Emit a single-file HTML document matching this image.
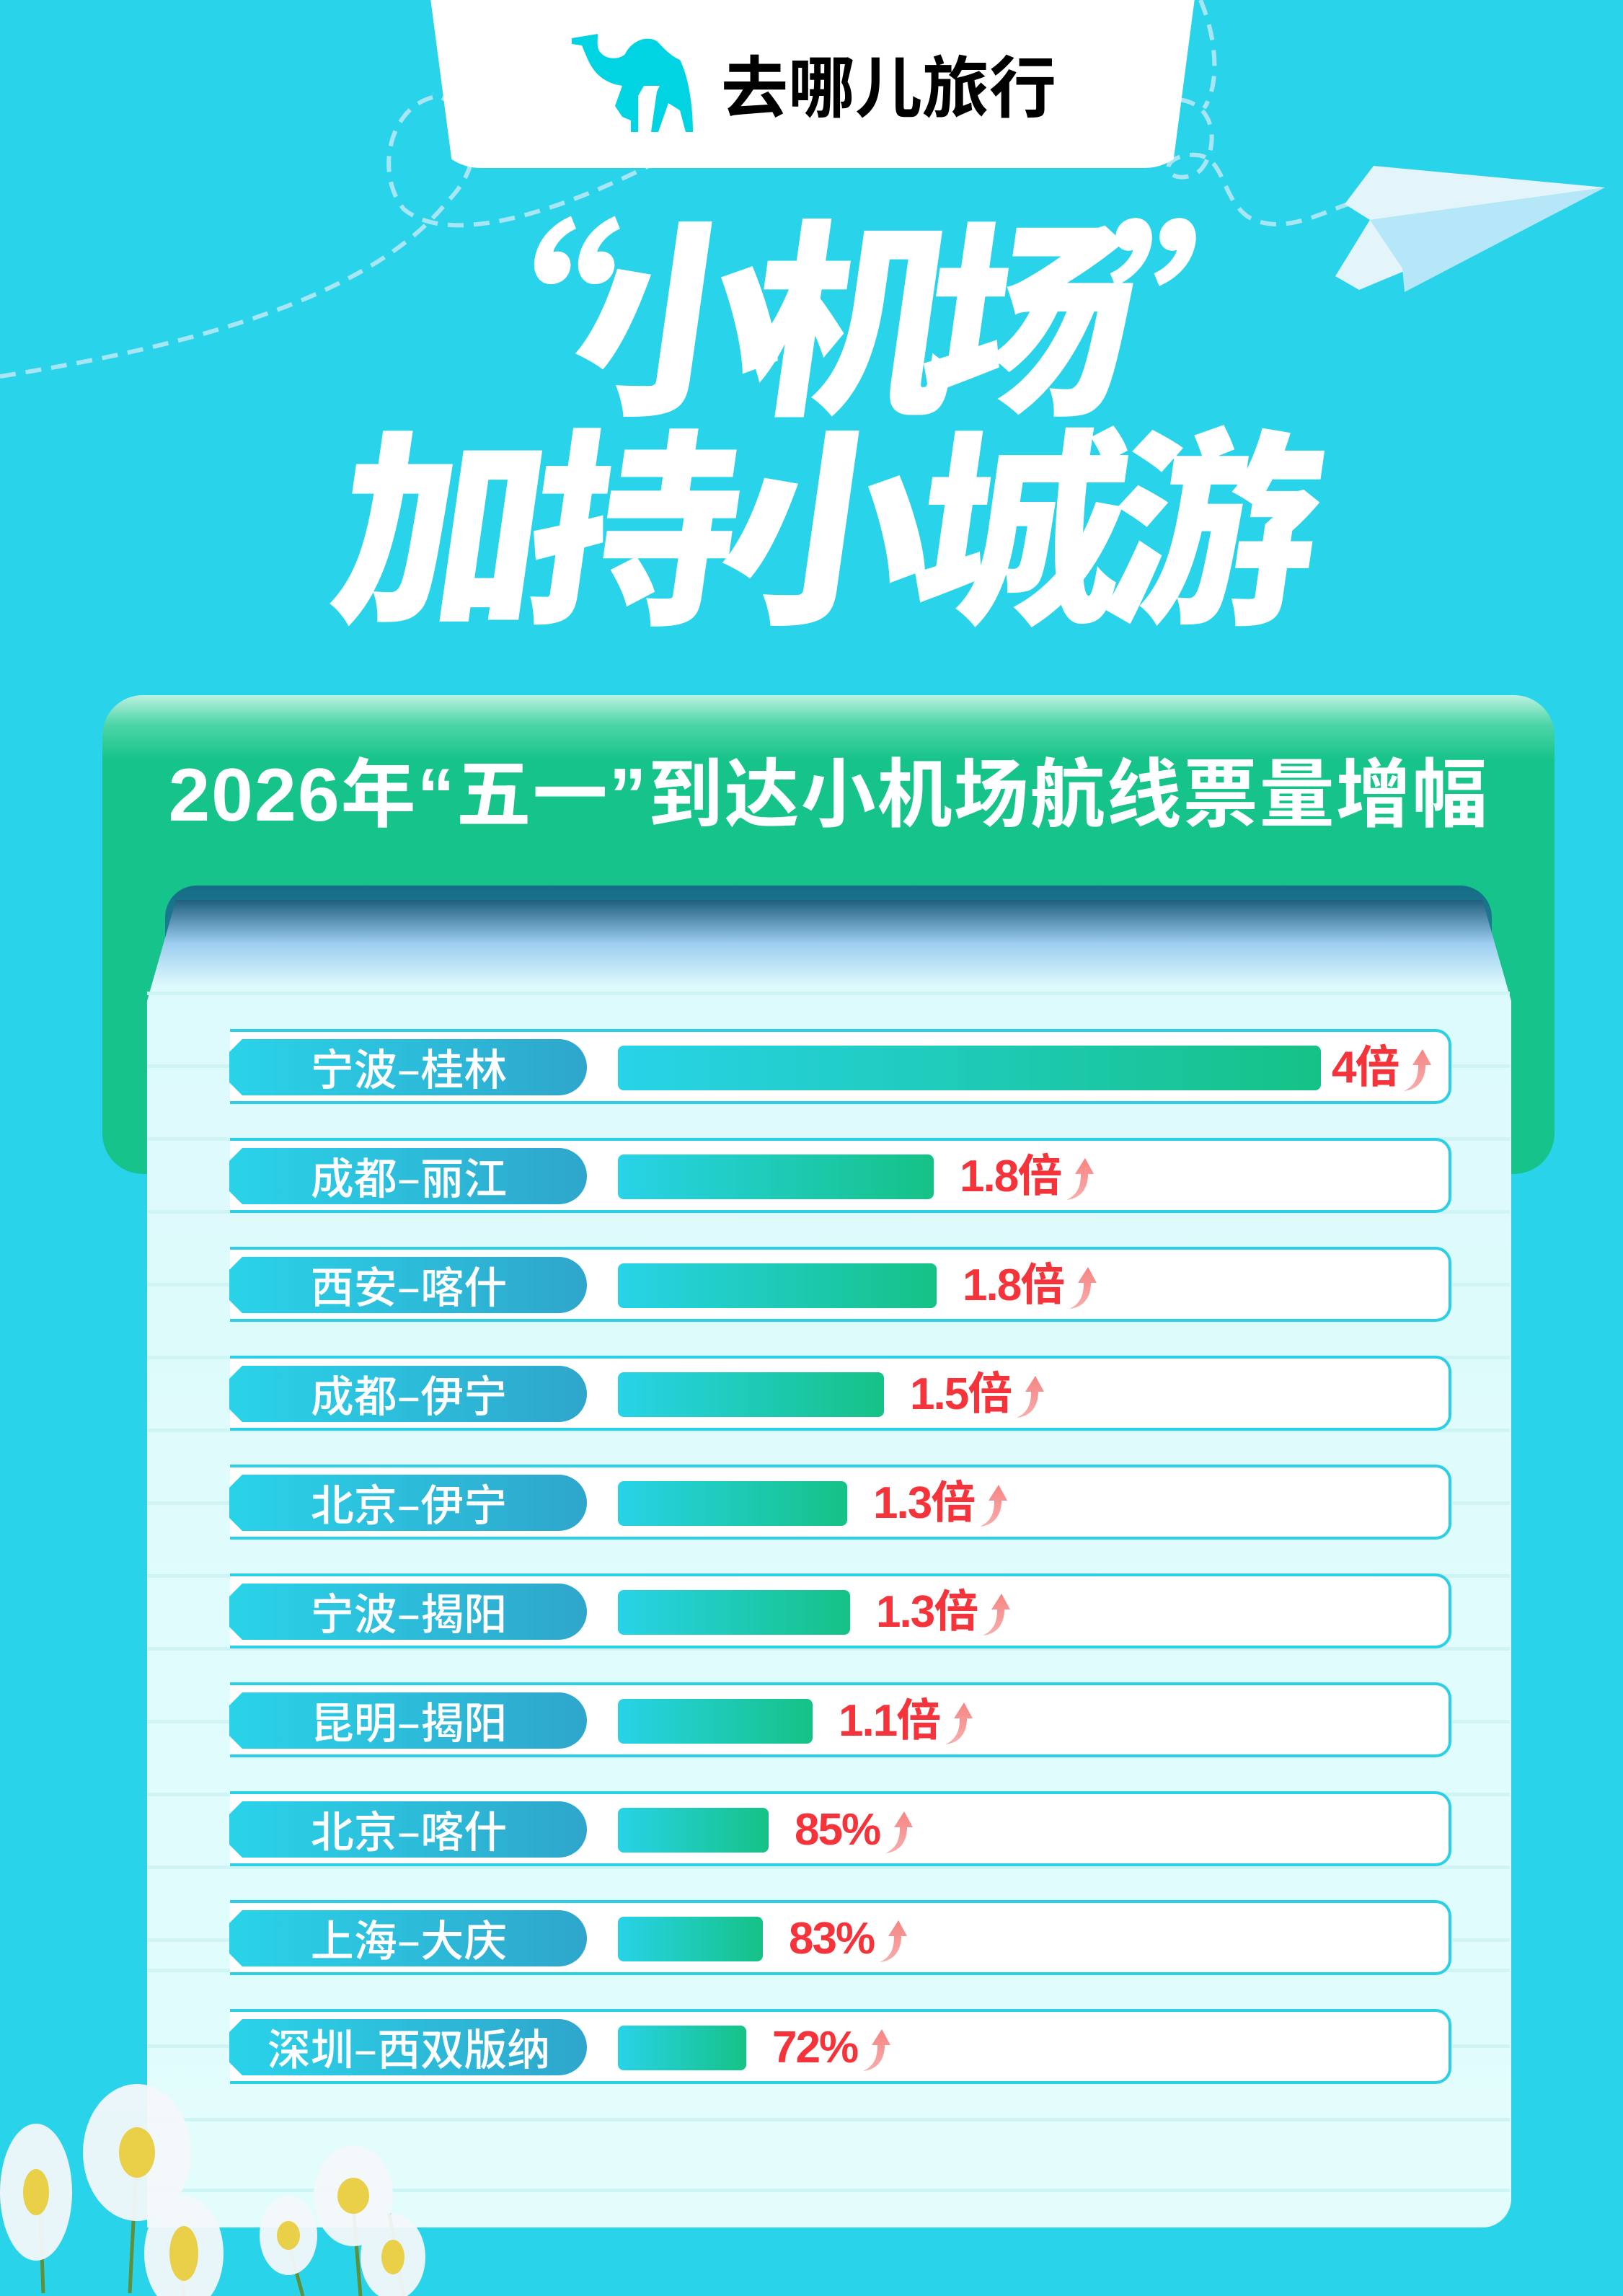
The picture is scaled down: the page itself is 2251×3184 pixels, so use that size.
<!DOCTYPE html>
<html><head><meta charset="utf-8">
<style>
*{margin:0;padding:0;box-sizing:border-box}
body{width:2251px;height:3184px;background:#29D4EA;position:relative;overflow:hidden;font-family:"Liberation Sans","Noto Sans CJK SC",sans-serif}
.abs{position:absolute}
.title{color:#fff;font-family:"Noto Sans CJK SC",sans-serif;font-weight:900;white-space:nowrap;transform:skewX(-8deg)}
.row{position:absolute;left:319px;width:1694px;height:104px;background:#fff;border:4px solid #2BCFE6;border-left:none;border-radius:0 22px 22px 0}
.pill{position:absolute;left:-1px;top:10px;width:496px;height:78px;background:linear-gradient(90deg,#2AD3E9,#2FA6CC);border-radius:0 40px 40px 0;clip-path:polygon(18px 0,100% 0,100% 100%,18px 100%,0 calc(100% - 18px),0 18px);color:#fff;font-size:60px;font-weight:500;text-align:center;line-height:78px;padding-left:2px;font-family:"Noto Sans CJK SC",sans-serif}
.bar{position:absolute;left:538px;top:19px;height:62px;border-radius:8px;background:linear-gradient(90deg,#28D3E8,#15C286)}
.val{position:absolute;top:10px;color:#F5333A;font-size:62px;font-weight:700;line-height:80px;white-space:nowrap;letter-spacing:-2px}
.val svg{vertical-align:middle;margin-left:6px}
.line{position:absolute;left:204px;width:1890px;height:5px;background:#CFF4F4}
</style></head><body>

<svg class="abs" style="left:0;top:0" width="2251" height="700">
<path d="M0 522 C200 490 500 430 620 280 C680 220 660 150 600 130" stroke="#A9E6F5" stroke-width="6" fill="none" stroke-dasharray="22 14"/>
<path d="M600 135 C540 150 520 240 560 290 C620 340 760 300 900 230" stroke="#A9E6F5" stroke-width="6" fill="none" stroke-dasharray="22 14"/>
<path d="M1600 140 C1700 120 1690 220 1660 240 C1620 260 1600 220 1650 215 C1700 210 1690 270 1730 300 C1780 330 1840 290 1880 280" stroke="#A9E6F5" stroke-width="6" fill="none" stroke-dasharray="22 14"/>
<path d="M1665 0 C1690 60 1690 120 1670 150" stroke="#A9E6F5" stroke-width="6" fill="none" stroke-dasharray="22 14"/>
<polygon points="1905,230 1865,283 1900,305 2226,260" fill="#E3F4FB"/>
<polygon points="1900,305 1852,383 1885,402 2226,260" fill="#E3F4FB"/>
<polygon points="1900,305 1945,372 1948,405 2226,260" fill="#B6E7F8"/>
</svg>

<div class="abs" style="left:596px;top:-10px;width:1062px;height:243px;background:#fff;border-radius:0 0 70px 70px;clip-path:polygon(0 0,100% 0,97% 100%,3% 100%)"></div>
<div class="abs" style="left:640px;top:-10px;width:975px;height:243px;background:#fff;border-radius:0 0 80px 80px"></div>
<svg class="abs" style="left:793px;top:47px" width="175" height="136" viewBox="0 0 175 136">
<path d="M0 6 L0 14 L14 16 C24 40 30 60 60 70 L70 72 L60 100 L70 115 L82 120 L82 136 L92 136 L92 86 L100 72 L122 72 L118 80 L110 136 L120 136 L134 96 L150 106 L158 136 L168 136 C168 100 162 60 150 36 C136 30 128 20 118 10 C100 0 80 14 74 28 C66 36 48 36 40 26 C34 20 36 10 36 0 Z" fill="#00D3E2"/>
</svg>
<div class="abs" style="left:1000px;top:55px;font-size:93px;font-weight:700;color:#000;font-family:'Noto Sans CJK SC',sans-serif;line-height:120px;white-space:nowrap">去哪儿旅行</div>

<div class="abs title" style="left:560px;top:255px;font-size:290px;line-height:340px;letter-spacing:-48px">“小机场”</div>
<div class="abs title" style="left:470px;top:545px;font-size:290px;line-height:340px;letter-spacing:-22px">加持小城游</div>

<div class="abs" style="left:142px;top:964px;width:2014px;height:664px;border-radius:56px;background:linear-gradient(180deg,#BDF1E0 0px,#4ED6A8 40px,#16C38A 90px,#16C38A 100%)"></div>
<div class="abs" style="left:142px;top:1038px;width:2014px;text-align:center;color:#fff;font-size:104px;font-weight:700;line-height:130px;white-space:nowrap;font-family:'Liberation Sans','Noto Sans CJK SC',sans-serif;letter-spacing:2px">2026年“五一”到达小机场航线票量增幅</div>

<div class="abs" style="left:229px;top:1228px;width:1840px;height:160px;border-radius:44px;background:linear-gradient(180deg,#156D85,#2B93AE)"></div>
<div class="abs" style="left:204px;top:1248px;width:1892px;height:1841px;background:linear-gradient(180deg,#1F5E7E 0px,#9CCDF0 60px,#DDFAFC 120px,#E2FDFC 100%);border-radius:0 0 40px 0;clip-path:polygon(40px 0,1852px 0,1892px 140px,1892px 100%,0 100%,0 140px)"></div>
<div class="line" style="top:1375px"></div><div class="line" style="top:1476px"></div><div class="line" style="top:1577px"></div>
<div class="line" style="top:1678px"></div><div class="line" style="top:1779px"></div><div class="line" style="top:1880px"></div>
<div class="line" style="top:1981px"></div><div class="line" style="top:2082px"></div><div class="line" style="top:2183px"></div>
<div class="line" style="top:2284px"></div><div class="line" style="top:2385px"></div><div class="line" style="top:2486px"></div>
<div class="line" style="top:2587px"></div><div class="line" style="top:2688px"></div><div class="line" style="top:2730px"></div>
<div class="line" style="top:2835px"></div><div class="line" style="top:2937px"></div><div class="line" style="top:3035px"></div>

<svg width="0" height="0" style="position:absolute"><defs>
<linearGradient id="ag" x1="0" y1="1" x2="0" y2="0"><stop offset="0" stop-color="#F58A88" stop-opacity="0.7"/><stop offset="1" stop-color="#F58482"/></linearGradient></defs></svg>

<div class="row" style="top:1427px"><div class="pill">宁波–桂林</div><div class="bar" style="width:975px"></div><div class="val" style="left:1528px">4倍<svg width="40" height="60" viewBox="0 0 40 60"><path d="M2 58 C20 50 22 35 22 22 L14 22 L28 0 L40 22 L32 22 C32 42 22 56 2 58Z" fill="url(#ag)"/></svg></div></div>
<div class="row" style="top:1578px"><div class="pill">成都–丽江</div><div class="bar" style="width:438px"></div><div class="val" style="left:1012px">1.8倍<svg width="40" height="60" viewBox="0 0 40 60"><path d="M2 58 C20 50 22 35 22 22 L14 22 L28 0 L40 22 L32 22 C32 42 22 56 2 58Z" fill="url(#ag)"/></svg></div></div>
<div class="row" style="top:1729px"><div class="pill">西安–喀什</div><div class="bar" style="width:442px"></div><div class="val" style="left:1016px">1.8倍<svg width="40" height="60" viewBox="0 0 40 60"><path d="M2 58 C20 50 22 35 22 22 L14 22 L28 0 L40 22 L32 22 C32 42 22 56 2 58Z" fill="url(#ag)"/></svg></div></div>
<div class="row" style="top:1880px"><div class="pill">成都–伊宁</div><div class="bar" style="width:369px"></div><div class="val" style="left:943px">1.5倍<svg width="40" height="60" viewBox="0 0 40 60"><path d="M2 58 C20 50 22 35 22 22 L14 22 L28 0 L40 22 L32 22 C32 42 22 56 2 58Z" fill="url(#ag)"/></svg></div></div>
<div class="row" style="top:2031px"><div class="pill">北京–伊宁</div><div class="bar" style="width:318px"></div><div class="val" style="left:892px">1.3倍<svg width="40" height="60" viewBox="0 0 40 60"><path d="M2 58 C20 50 22 35 22 22 L14 22 L28 0 L40 22 L32 22 C32 42 22 56 2 58Z" fill="url(#ag)"/></svg></div></div>
<div class="row" style="top:2182px"><div class="pill">宁波–揭阳</div><div class="bar" style="width:322px"></div><div class="val" style="left:896px">1.3倍<svg width="40" height="60" viewBox="0 0 40 60"><path d="M2 58 C20 50 22 35 22 22 L14 22 L28 0 L40 22 L32 22 C32 42 22 56 2 58Z" fill="url(#ag)"/></svg></div></div>
<div class="row" style="top:2333px"><div class="pill">昆明–揭阳</div><div class="bar" style="width:270px"></div><div class="val" style="left:844px">1.1倍<svg width="40" height="60" viewBox="0 0 40 60"><path d="M2 58 C20 50 22 35 22 22 L14 22 L28 0 L40 22 L32 22 C32 42 22 56 2 58Z" fill="url(#ag)"/></svg></div></div>
<div class="row" style="top:2484px"><div class="pill">北京–喀什</div><div class="bar" style="width:209px"></div><div class="val" style="left:783px">85%<svg width="40" height="60" viewBox="0 0 40 60"><path d="M2 58 C20 50 22 35 22 22 L14 22 L28 0 L40 22 L32 22 C32 42 22 56 2 58Z" fill="url(#ag)"/></svg></div></div>
<div class="row" style="top:2635px"><div class="pill">上海–大庆</div><div class="bar" style="width:201px"></div><div class="val" style="left:775px">83%<svg width="40" height="60" viewBox="0 0 40 60"><path d="M2 58 C20 50 22 35 22 22 L14 22 L28 0 L40 22 L32 22 C32 42 22 56 2 58Z" fill="url(#ag)"/></svg></div></div>
<div class="row" style="top:2786px"><div class="pill">深圳–西双版纳</div><div class="bar" style="width:178px"></div><div class="val" style="left:752px">72%<svg width="40" height="60" viewBox="0 0 40 60"><path d="M2 58 C20 50 22 35 22 22 L14 22 L28 0 L40 22 L32 22 C32 42 22 56 2 58Z" fill="url(#ag)"/></svg></div></div>

<svg class="abs" style="left:0;top:2860px" width="640" height="324">
<g stroke="#5E8F3A" stroke-width="5" fill="none"><path d="M60 320 L55 180"/><path d="M180 320 L190 120"/><path d="M255 324 L250 280"/><path d="M420 324 L400 250"/><path d="M560 324 L540 210"/><path d="M500 324 L490 200"/></g>
<g fill="#F4F8FA" opacity="0.95">
<ellipse cx="190" cy="125" rx="75" ry="95"/><ellipse cx="50" cy="180" rx="50" ry="95"/><ellipse cx="255" cy="265" rx="55" ry="80"/><ellipse cx="400" cy="240" rx="40" ry="55"/><ellipse cx="490" cy="185" rx="55" ry="70"/><ellipse cx="545" cy="270" rx="45" ry="60"/></g>
<g fill="#E9D048"><ellipse cx="190" cy="125" rx="25" ry="35"/><ellipse cx="50" cy="180" rx="18" ry="32"/><ellipse cx="255" cy="265" rx="20" ry="38"/><ellipse cx="400" cy="240" rx="16" ry="20"/><ellipse cx="490" cy="185" rx="22" ry="25"/><ellipse cx="545" cy="270" rx="16" ry="24"/></g>
</svg>
</body></html>
